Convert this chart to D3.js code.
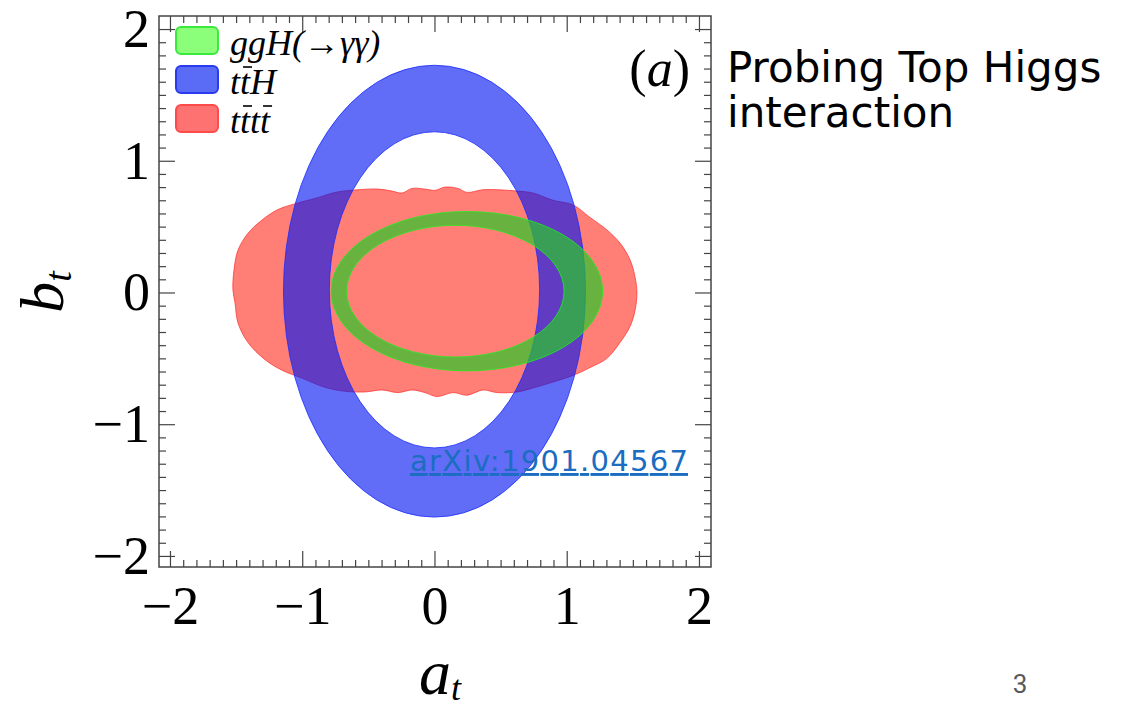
<!DOCTYPE html>
<html>
<head>
<meta charset="utf-8">
<script src="https://cdn.jsdelivr.net/npm/d3@7"></script>
<style>
  body { margin: 0; background: #fff; }
</style>
</head>
<body>
<svg id="chart" width="1140" height="708" font-family="'Liberation Serif', 'Times New Roman', serif"></svg>
<script>
// tick values on both axes
const xTicks = [-2, -1, 0, 1, 2];
const yTicks = [-2, -1, 0, 1, 2];

// allowed rings, each ellipse as [centre a_t, centre b_t, half width, half height]
const tthOuter = [0.000, 0.010, 1.142, 1.715];
const tthInner = [0.000, 0.020, 0.795, 1.200];
const gghOuter = [0.245, 0.010, 1.027, 0.605];
const gghInner = [0.158, 0.010, 0.822, 0.500];

// tttt contour, [a_t, b_t]
const ttttEdge = [
  [-1.524, 0.02], [-1.516, 0.17], [-1.486, 0.32], [-1.410, 0.45], [-1.304, 0.55],
  [-1.183, 0.63], [-1.032, 0.68], [-0.881, 0.72], [-0.752, 0.76], [-0.578, 0.78],
  [-0.427, 0.785], [-0.321, 0.77], [-0.246, 0.755], [-0.170, 0.79], [-0.072, 0.785],
  [0.004, 0.775], [0.079, 0.80], [0.178, 0.79], [0.246, 0.76], [0.367, 0.78],
  [0.473, 0.78], [0.624, 0.77], [0.745, 0.755], [0.896, 0.70], [1.047, 0.665],
  [1.176, 0.57], [1.304, 0.475], [1.403, 0.375], [1.478, 0.25], [1.516, 0.12],
  [1.531, 0.0], [1.516, -0.14], [1.478, -0.26], [1.403, -0.38], [1.304, -0.50],
  [1.176, -0.57], [1.047, -0.63], [0.896, -0.68], [0.745, -0.725], [0.624, -0.755],
  [0.473, -0.76], [0.367, -0.74], [0.246, -0.78], [0.140, -0.76], [0.020, -0.79],
  [-0.072, -0.76], [-0.170, -0.74], [-0.276, -0.76], [-0.397, -0.74], [-0.525, -0.755],
  [-0.677, -0.75], [-0.828, -0.72], [-1.002, -0.65], [-1.153, -0.59], [-1.281, -0.51],
  [-1.410, -0.38], [-1.486, -0.23], [-1.508, -0.08]
];

// legend entries, pieces flagged true get an overbar
const legendLabels = [
  [["ggH(→γγ)", false]],
  [["t", false], ["t", true], ["H", false]],
  [["t", false], ["t", true], ["t", false], ["t", true]]
];

const styles = {
  ggh:  { fill: "#28c828", op: 0.7,  edge: "#22ee22", key: "#8cff7a", keyEdge: "#3ce83c" },
  tth:  { fill: "#0014f0", op: 0.62, edge: "#1a2cff", key: "#5a6cf5", keyEdge: "#2a3af0" },
  tttt: { fill: "#ff2a1a", op: 0.6,  edge: "#ff2a2a", key: "#ff7272", keyEdge: "#ff4a4a" }
};
const legendStyles = [styles.ggh, styles.tth, styles.tttt];

const svg = d3.select("#chart");
svg.append("rect").attr("width", 1140).attr("height", 708).attr("fill", "#fff");

const pLeft = 159, pRight = 711, pTop = 16, pBottom = 567;
const x = d3.scaleLinear().domain([-2.083, 2.091]).range([pLeft, pRight]);
const y = d3.scaleLinear().domain([-2.084, 2.099]).range([pBottom, pTop]);

svg.append("clipPath").attr("id", "plot")
  .append("rect").attr("x", pLeft).attr("y", pTop)
  .attr("width", pRight - pLeft).attr("height", pBottom - pTop);

const g = svg.append("g").attr("clip-path", "url(#plot)");

function ellipsePath([cx, cy, rx, ry]) {
  const px = x(cx + rx) - x(cx), py = y(cy) - y(cy + ry);
  return `M${x(cx - rx)},${y(cy)}A${px},${py} 0 1 0 ${x(cx + rx)},${y(cy)}` +
         `A${px},${py} 0 1 0 ${x(cx - rx)},${y(cy)}Z`;
}

// tttt blob
g.append("path")
  .datum(ttttEdge)
  .attr("d", d3.line().x(d => x(d[0])).y(d => y(d[1])).curve(d3.curveCatmullRomClosed.alpha(0.5)))
  .attr("fill", styles.tttt.fill).attr("fill-opacity", styles.tttt.op)
  .attr("stroke", styles.tttt.edge).attr("stroke-opacity", 0.7).attr("stroke-width", 1);

// ttH ring
g.append("path")
  .attr("d", ellipsePath(tthOuter) + ellipsePath(tthInner))
  .attr("fill-rule", "evenodd")
  .attr("fill", styles.tth.fill).attr("fill-opacity", styles.tth.op)
  .attr("stroke", styles.tth.edge).attr("stroke-opacity", 0.8).attr("stroke-width", 1);

// ggH ring
g.append("path")
  .attr("d", ellipsePath(gghOuter) + ellipsePath(gghInner))
  .attr("fill-rule", "evenodd")
  .attr("fill", styles.ggh.fill).attr("fill-opacity", styles.ggh.op)
  .attr("stroke", styles.ggh.edge).attr("stroke-opacity", 0.8).attr("stroke-width", 1);

// frame + ticks
const minor = d3.range(-20, 21).filter(i => i % 10 !== 0).map(i => i / 10);
const fmt = d => d < 0 ? "\u2212" + (-d) : String(d);
const tickCol = "#444";

function styleAxis(sel) {
  sel.attr("font-family", null);
  sel.select(".domain").remove();
  sel.selectAll(".tick line").attr("stroke", tickCol).attr("stroke-width", 1.2);
  sel.selectAll(".tick text").attr("fill", "#000").attr("font-size", 54);
}

svg.append("g").attr("transform", `translate(0,${pBottom})`)
  .call(d3.axisBottom(x).tickValues(xTicks).tickSize(-16).tickPadding(19).tickFormat(fmt))
  .call(styleAxis);
svg.append("g").attr("transform", `translate(0,${pBottom})`)
  .call(d3.axisBottom(x).tickValues(minor).tickSize(-7).tickFormat(""))
  .call(styleAxis);
svg.append("g").attr("transform", `translate(0,${pTop})`)
  .call(d3.axisTop(x).tickValues(xTicks).tickSize(-16).tickFormat(""))
  .call(styleAxis);
svg.append("g").attr("transform", `translate(0,${pTop})`)
  .call(d3.axisTop(x).tickValues(minor).tickSize(-7).tickFormat(""))
  .call(styleAxis);

svg.append("g").attr("transform", `translate(${pLeft},0)`)
  .call(d3.axisLeft(y).tickValues(yTicks).tickSize(-16).tickPadding(9).tickFormat(fmt))
  .call(styleAxis);
svg.append("g").attr("transform", `translate(${pLeft},0)`)
  .call(d3.axisLeft(y).tickValues(minor).tickSize(-7).tickFormat(""))
  .call(styleAxis);
svg.append("g").attr("transform", `translate(${pRight},0)`)
  .call(d3.axisRight(y).tickValues(yTicks).tickSize(-16).tickFormat(""))
  .call(styleAxis);
svg.append("g").attr("transform", `translate(${pRight},0)`)
  .call(d3.axisRight(y).tickValues(minor).tickSize(-7).tickFormat(""))
  .call(styleAxis);

svg.append("rect")
  .attr("x", pLeft).attr("y", pTop).attr("width", pRight - pLeft).attr("height", pBottom - pTop)
  .attr("fill", "none").attr("stroke", tickCol).attr("stroke-width", 1.5);

// axis titles
const xt = svg.append("text").attr("x", 440).attr("y", 694).attr("text-anchor", "middle")
  .attr("font-style", "italic").attr("font-size", 64);
xt.append("tspan").text("a");
xt.append("tspan").attr("font-size", 36).attr("dy", 6).text("t");

const yt = svg.append("text").attr("transform", "translate(63,292) rotate(-90)")
  .attr("text-anchor", "middle").attr("font-style", "italic").attr("font-size", 62);
yt.append("tspan").text("b");
yt.append("tspan").attr("font-size", 38).attr("dy", 8).text("t");

// panel tag
const tag = svg.append("text").attr("x", 690).attr("y", 86).attr("text-anchor", "end").attr("font-size", 52);
tag.append("tspan").text("(");
tag.append("tspan").attr("font-style", "italic").text("a");
tag.append("tspan").text(")");

// legend
const rows = svg.append("g").selectAll("g").data(legendLabels).join("g")
  .attr("transform", (d, i) => `translate(176,${27 + i * 39})`);
rows.append("rect")
  .attr("width", 42).attr("height", 27).attr("rx", 5)
  .attr("fill", (d, i) => legendStyles[i].key)
  .attr("stroke", (d, i) => legendStyles[i].keyEdge).attr("stroke-width", 2);
const lt = rows.append("text").attr("x", 54).attr("y", 28)
  .attr("font-size", 36).attr("font-style", "italic");
lt.selectAll("tspan").data(d => d).join("tspan").text(d => d[0]);

// overbars measured from the laid-out glyphs
lt.each(function (parts) {
  const node = this;
  let idx = 0;
  parts.forEach(([txt, barred]) => {
    if (barred) {
      const a = node.getStartPositionOfChar(idx).x;
      const b = node.getEndPositionOfChar(idx + txt.length - 1).x;
      d3.select(node.parentNode).append("line")
        .attr("x1", a + 3).attr("x2", b + 2).attr("y1", 28 - 27).attr("y2", 28 - 27)
        .attr("stroke", "#000").attr("stroke-width", 1.6);
    }
    idx += txt.length;
  });
});

// citation
svg.append("text").attr("x", 410).attr("y", 471)
  .attr("font-family", "'DejaVu Sans', sans-serif").attr("font-size", 29)
  .attr("textLength", 278).attr("lengthAdjust", "spacing")
  .attr("fill", "#1a6dc0").style("text-decoration", "underline")
  .text("arXiv:1901.04567");

// slide text
const side = svg.append("g").attr("font-family", "'DejaVu Sans', sans-serif").attr("font-size", 42);
side.append("text").attr("x", 727).attr("y", 82).text("Probing Top Higgs");
side.append("text").attr("x", 727).attr("y", 127).text("interaction");

svg.append("text").attr("x", 1020).attr("y", 693).attr("text-anchor", "middle")
  .attr("font-family", "Roboto, sans-serif").attr("font-size", 26).attr("fill", "#595959")
  .text("3");
</script>
</body>
</html>
